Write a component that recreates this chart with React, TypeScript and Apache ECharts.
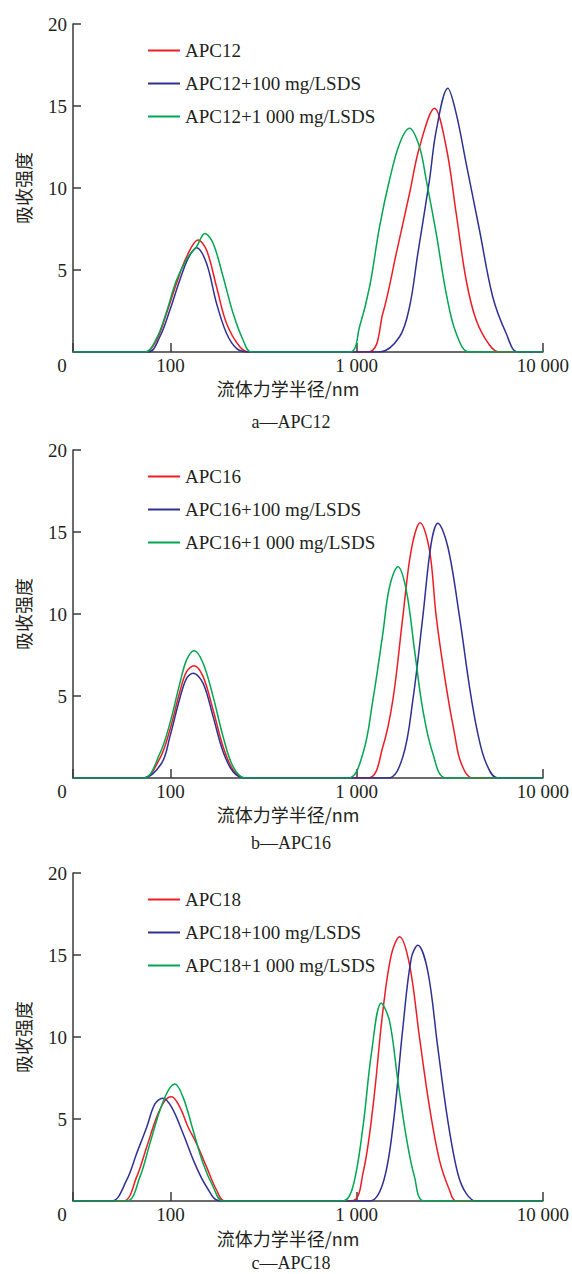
import React, { useEffect, useRef } from "react";
import * as echarts from "echarts";

// ---- data: [hydrodynamic radius (nm), absorption intensity] ----
const apc12 = [[30,0],[73,0],[84.3,0.73],[95.4,2.36],[107.9,4.19],[122.2,5.81],[140.9,6.83],[156.3,6.22],[176.9,3.98],[200.1,1.75],[235.8,0.32],[266.8,0],[1149,0],[1383,2.36],[1632,6.0],[1924,9.68],[2176,12.5],[2619,14.86],[3026,12.5],[3423,8.46],[3873,4.39],[4383,1.95],[5166,0.43],[5844,0],[10000,0]];
const apc12s100 = [[30,0],[76,0],[87.8,0.93],[99.4,2.56],[112.4,4.39],[124.6,5.71],[138.2,6.36],[156.3,5.41],[176.9,2.97],[200.1,1.14],[226.4,0.22],[261.3,0],[1328,0],[1700,0.93],[1924,2.76],[2131,6.0],[2462,10.5],[2675,13.5],[3087,16.08],[3423,14.55],[3873,11.5],[4566,7.44],[5379,3.37],[6348,1.14],[7326,0],[10000,0]];
const apc12s1000 = [[30,0],[73,0],[84.3,0.83],[95.4,2.46],[107.9,4.39],[124.6,5.81],[138.2,6.42],[153.1,7.23],[169.6,6.63],[191.9,4.59],[217.1,2.36],[245.6,0.73],[272.5,0],[917,0],[1037,1.54],[1174,3.98],[1328,7.64],[1502,10.5],[1700,12.7],[1924,13.64],[2176,12.5],[2364,10.5],[2675,7.23],[3026,3.58],[3423,1.14],[4035,0],[10000,0]];

const apc16 = [[30,0],[71.5,0],[87.8,1.2],[99.4,2.93],[112.4,5.26],[122.2,6.48],[134.1,6.85],[149.9,6.18],[169.6,4.15],[191.9,1.91],[217.1,0.49],[250.8,0],[1149,0],[1383,1.91],[1565,4.76],[1771,9.84],[1964,13.9],[2195,15.57],[2462,13.9],[2675,9.84],[3026,5.57],[3352,2.72],[3642,0.9],[4203,0],[10000,0]];
const apc16s100 = [[30,0],[71.5,0],[89.7,0.9],[99.4,2.52],[112.4,4.86],[122.2,6.08],[132.5,6.38],[149.9,5.77],[169.6,3.74],[191.9,1.6],[217.1,0.38],[250.8,0],[1471,0],[1771,1.3],[2004,4.76],[2267,9.84],[2514,14.3],[2728,15.53],[3087,14.1],[3567,9.84],[4035,5.57],[4471,2.72],[4959,0.9],[5721,0],[10000,0]];
const apc16s1000 = [[30,0],[71.5,0],[87.8,1.5],[99.4,3.33],[112.4,5.77],[122.2,7.2],[134.1,7.76],[149.9,7.0],[169.6,4.96],[191.9,2.52],[217.1,0.69],[250.8,0],[898,0],[1081,1.5],[1223,4.76],[1383,8.82],[1502,11.66],[1665,12.88],[1847,11.46],[2046,7.8],[2267,4.15],[2565,1.5],[3026,0],[10000,0]];

const apc18 = [[30,0],[55.8,0],[65.9,1.47],[74.6,3.29],[84.3,5.1],[93.4,6.12],[101.5,6.36],[112.4,5.72],[124.6,4.5],[138.2,3.5],[156.3,2.08],[176.9,0.67],[195.9,0],[937,0],[1081,1.68],[1223,5.72],[1383,11.58],[1535,15.01],[1700,16.12],[1924,14.4],[2176,9.96],[2462,5.72],[2786,2.48],[3150,0.67],[3423,0],[10000,0]];
const apc18s100 = [[30,0],[48.4,0],[58.2,1.27],[65.9,2.9],[74.6,4.5],[82.6,5.92],[90.8,6.26],[101.5,5.72],[117.1,4.1],[135.3,2.28],[156.3,0.87],[184.2,0],[1174,0],[1383,1.07],[1565,4.5],[1771,10.56],[1964,14.8],[2131,15.6],[2411,14.0],[2728,9.35],[3087,4.9],[3493,1.68],[3873,0.47],[4383,0],[10000,0]];
const apc18s1000 = [[30,0],[58.2,0],[68.6,1.47],[77.6,3.5],[87.8,5.52],[97.3,6.73],[105.7,7.13],[117.1,6.32],[132.5,4.3],[149.9,2.28],[169.6,0.87],[191.9,0],[844,0],[955,0.87],[1081,4.5],[1199,8.95],[1356,12.08],[1502,10.97],[1665,7.33],[1847,3.9],[2046,1.47],[2315,0],[10000,0]];

const panelNames = ["APC12", "APC16", "APC18"];
const panelLetters = ["a", "b", "c"];
const panelData = [
  [apc12, apc12s100, apc12s1000],
  [apc16, apc16s100, apc16s1000],
  [apc18, apc18s100, apc18s1000],
];
const suffixes = ["", "+100 mg/LSDS", "+1 000 mg/LSDS"];
const xMin = 30;
const xMax = 10000;
const yMin = 0;
const yMax = 20;
const yStep = 5;
const xAxisTitle = "流体力学半径/nm";
const yAxisTitle = "吸收强度";

// ---- layout / style ----
const colors = ["#ed1c24", "#2e3192", "#00a651"];
const gridTops = [24, 450, 873];
const gridH = 328;
const nameYs = [388, 814, 1238];
const subYs = [422, 843, 1263];
const LATIN = "'Liberation Serif', 'Times New Roman', serif";
const CJK = "'Noto Sans CJK SC', sans-serif";
const TXT = "#231f20";
const AX = "#3a3a3a";
const LINE_ICON = "path://M0,0L32,0L32,2L0,2Z";

const fmtX = (v: number) => {
  if (v < 50) return "{z|0}";
  const s = String(Math.round(v));
  return s.replace(/\B(?=(\d{3})+(?!\d))/g, " ");
};

export default function App() {
  const ref = useRef<HTMLDivElement>(null);
  useEffect(() => {
    document.body.style.margin = "0";
    const chart = echarts.init(ref.current!, undefined, { renderer: "svg" });
    const grids: any[] = [];
    const xAxes: any[] = [];
    const yAxes: any[] = [];
    const legends: any[] = [];
    const series: any[] = [];
    const graphics: any[] = [];
    panelNames.forEach((pn, i) => {
      grids.push({ left: 73, right: 29, top: gridTops[i], height: gridH });
      xAxes.push({
        type: "log",
        logBase: 10,
        gridIndex: i,
        min: xMin,
        max: xMax,
        axisLine: { show: true, lineStyle: { color: AX, width: 1.5 } },
        axisTick: { show: true, inside: true, length: 9, lineStyle: { color: AX, width: 1.5 } },
        minorTick: { show: false },
        splitLine: { show: false },
        axisLabel: {
          formatter: fmtX,
          fontSize: 19,
          fontFamily: LATIN,
          color: TXT,
          margin: 4,
          showMinLabel: true,
          showMaxLabel: true,
          rich: { z: { fontSize: 19, fontFamily: LATIN, color: TXT, padding: [0, 22, 0, 0] } },
        },
      });
      yAxes.push({
        type: "value",
        gridIndex: i,
        min: yMin,
        max: yMax,
        interval: yStep,
        name: yAxisTitle,
        nameLocation: "middle",
        nameRotate: 90,
        nameGap: 41,
        nameTextStyle: { fontSize: 18, fontFamily: CJK, color: TXT },
        axisLine: { show: true, lineStyle: { color: AX, width: 1.5 } },
        axisTick: { show: true, inside: true, length: 8, lineStyle: { color: AX, width: 1.5 } },
        splitLine: { show: false },
        axisLabel: {
          fontSize: 19,
          fontFamily: LATIN,
          color: TXT,
          margin: 6,
          formatter: (v: number) => (v === 0 ? "" : String(v)),
        },
      });
      const names = suffixes.map((s) => pn + s);
      legends.push({
        orient: "vertical",
        left: 143,
        top: gridTops[i] + 12,
        icon: LINE_ICON,
        itemWidth: 32,
        itemHeight: 2,
        itemGap: 14,
        data: names,
        textStyle: { fontSize: 19, fontFamily: LATIN, color: TXT },
      });
      names.forEach((n, k) => {
        series.push({
          name: n,
          type: "line",
          xAxisIndex: i,
          yAxisIndex: i,
          data: panelData[i][k],
          smooth: 0.35,
          symbol: "none",
          clip: true,
          color: colors[k],
          itemStyle: { color: colors[k] },
          lineStyle: { color: colors[k], width: 1.5 },
        });
      });
      graphics.push({
        type: "text",
        x: 288,
        y: nameYs[i],
        style: { text: xAxisTitle, fontSize: 18, fontFamily: CJK, fill: TXT, align: "center", verticalAlign: "middle" },
      });
      graphics.push({
        type: "text",
        x: 291,
        y: subYs[i],
        style: { text: panelLetters[i] + "—" + pn, fontSize: 18, fontFamily: LATIN, fill: TXT, align: "center", verticalAlign: "middle" },
      });
    });
    chart.setOption({
      animation: false,
      backgroundColor: "#ffffff",
      grid: grids,
      xAxis: xAxes,
      yAxis: yAxes,
      legend: legends,
      series,
      graphic: graphics,
    });
    return () => chart.dispose();
  }, []);
  return <div ref={ref} style={{ width: 572, height: 1274 }} />;
}
